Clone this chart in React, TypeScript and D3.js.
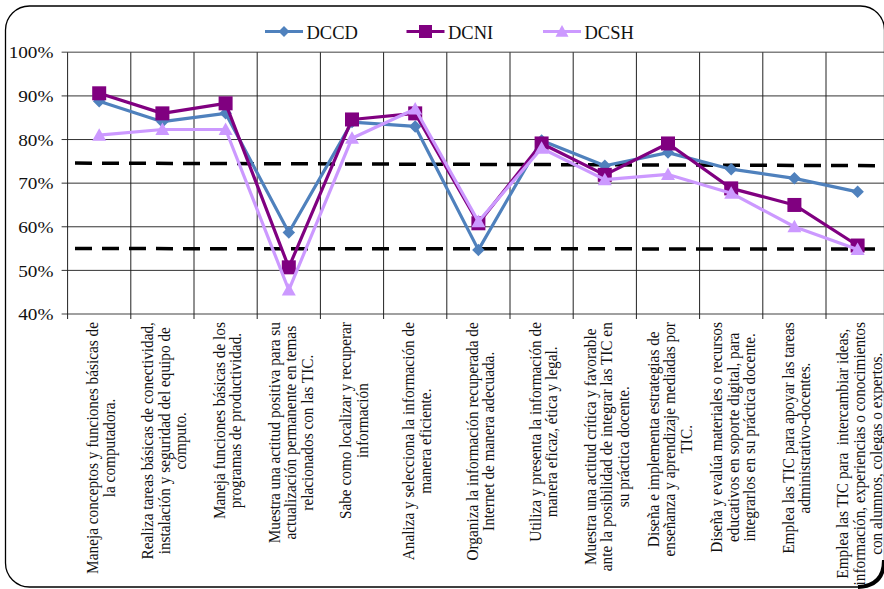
import React from "react";
import * as d3 from "d3";

const categories: string[][] = [
  ["Maneja conceptos y funciones básicas de", "la computadora."],
  ["Realiza tareas básicas de conectividad,", "instalación y seguridad del equipo de", "cómputo."],
  ["Maneja funciones básicas de los", "programas de productividad."],
  ["Muestra una actitud positiva para su", "actualización permanente en temas", "relacionados con las TIC."],
  ["Sabe como localizar y recuperar", "información"],
  ["Analiza y selecciona la información de", "manera eficiente."],
  ["Organiza la información recuperada de", "Internet de manera adecuada."],
  ["Utiliza y presenta la información de", "manera eficaz, ética y legal."],
  ["Muestra una actitud crítica y favorable", "ante la posibilidad de integrar las TIC en", "su práctica docente."],
  ["Diseña e implementa estrategias de", "enseñanza y aprendizaje mediadas por", "TIC."],
  ["Diseña y evalúa materiales o recursos", "educativos en soporte digital, para", "integrarlos en su práctica docente."],
  ["Emplea las TIC para apoyar las tareas", "administrativo-docentes."],
  ["Emplea las TIC para  intercambiar ideas,", "información, experiencias o conocimientos", "con alumnos, colegas o expertos."],
];

const DCCD = [88.8, 84.1, 86.0, 58.7, 84.0, 83.0, 54.7, 79.8, 74.0, 77.0, 73.2, 71.1, 68.0];
const DCNI = [90.6, 86.0, 88.3, 50.7, 84.6, 86.0, 60.8, 79.1, 71.9, 79.1, 68.8, 65.0, 55.7];
const DCSH = [81.0, 82.3, 82.3, 45.5, 80.3, 87.0, 61.2, 78.0, 70.8, 72.0, 67.7, 60.0, 54.8];

const upperBand = [74.6, 74.0];
const lowerBand = [55.0, 54.9];

const yTicks = [40, 50, 60, 70, 80, 90, 100];

const seriesNames = ["DCCD", "DCNI", "DCSH"];
const seriesColors = ["#4F81BD", "#800080", "#CC99FF"];
const seriesShapes = ["diamond", "square", "triangle"];

const W = 884;
const H = 589;
const plotLeft = 67.6;
const step = 63.2;
const plotRight = plotLeft + step * categories.length;
const plotTop = 52.3;
const plotBottom = 314;

const FONT = '"Liberation Serif"';
const labelSize = 15.3;
const labelLineH = 16.6;

// approximate Times-metric advance widths (per 1000 em)
const widths: Record<string, number> = {
  " ": 250, a: 444, b: 500, c: 444, d: 500, e: 444, f: 333, g: 500, h: 500, i: 278, j: 278, k: 500,
  l: 278, m: 778, n: 500, o: 500, p: 500, q: 500, r: 333, s: 389, t: 278, u: 500, v: 500, w: 722,
  x: 500, y: 500, z: 444, "á": 444, "é": 444, "í": 278, "ó": 500, "ú": 500, "ñ": 500,
  M: 889, R: 667, S: 556, A: 722, O: 722, U: 722, I: 333, T: 611, C: 667, D: 722, E: 611,
  ",": 250, ".": 250, "-": 333,
};
function measure(text: string): number {
  let w = 0;
  for (const ch of text) w += widths[ch] ?? 500;
  return (w / 1000) * labelSize;
}

function Marker({ shape, x, y, color, s }: { shape: string; x: number; y: number; color: string; s: number }) {
  const r = s * 0.5;
  if (shape === "diamond") {
    return <path d={`M${x},${y - r}L${x + r},${y}L${x},${y + r}L${x - r},${y}Z`} fill={color} />;
  }
  if (shape === "square") {
    return <rect x={x - r} y={y - r} width={2 * r} height={2 * r} fill={color} />;
  }
  return <path d={`M${x},${y - r}L${x + r},${y + r * 0.8}L${x - r},${y + r * 0.8}Z`} fill={color} />;
}

export default function App() {
  const x = d3
    .scaleBand<number>()
    .domain(d3.range(categories.length))
    .range([plotLeft, plotRight]);
  const y = d3.scaleLinear().domain([40, 100]).range([plotBottom, plotTop]);
  const cx = (i: number) => (x(i) as number) + x.bandwidth() / 2;

  const allSeries = [DCCD, DCNI, DCSH];
  const line = d3
    .line<number>()
    .x((_, i) => cx(i))
    .y((d) => y(d));

  const bandX = d3.scaleLinear().domain([0, 1]).range([75, plotRight]);
  const bandLine = d3
    .line<number>()
    .x((_, i) => bandX(i))
    .y((d) => y(d));

  const legendX = [265, 406.5, 543];
  const legendMarkerSize = [11, 13, 13];
  const markerSize = [12.5, 14, 14];

  const labelTop = 322;
  const textStyle = { fontFamily: FONT, whiteSpace: "pre" as const };

  return (
    <svg width={W} height={H} style={{ position: "absolute", left: 0, top: 0, background: "#fff" }}>
      <rect x={0} y={0} width={W} height={H} fill="#fff" />
      {yTicks.map((t) => (
        <g key={t}>
          <line
            x1={plotLeft - 6}
            x2={plotRight}
            y1={y(t)}
            y2={y(t)}
            stroke={t === 100 || t === 40 ? "#808080" : "#333"}
            strokeWidth={t === 100 || t === 40 ? 1.6 : 1}
          />
          <text
            transform={`translate(53.5,${y(t)}) scale(1.1,1)`}
            dy="0.35em"
            textAnchor="end"
            fontSize={17.5}
            fill="#111"
            style={textStyle}
          >
            {t}%
          </text>
        </g>
      ))}
      {d3.range(categories.length + 1).map((i) => (
        <line
          key={i}
          x1={plotLeft + i * step}
          x2={plotLeft + i * step}
          y1={plotTop}
          y2={plotBottom + 5}
          stroke="#222"
          strokeWidth={1}
        />
      ))}
      <path d={bandLine(upperBand) || ""} fill="none" stroke="#000" strokeWidth={3.5} strokeDasharray="17 10" />
      <path d={bandLine(lowerBand) || ""} fill="none" stroke="#000" strokeWidth={3.5} strokeDasharray="17 10" />
      {allSeries.map((s, si) => (
        <g key={si}>
          <path d={line(s) || ""} fill="none" stroke={seriesColors[si]} strokeWidth={3.2} strokeLinejoin="round" />
          {s.map((v, i) => (
            <Marker key={i} shape={seriesShapes[si]} x={cx(i)} y={y(v)} color={seriesColors[si]} s={markerSize[si]} />
          ))}
        </g>
      ))}
      {categories.map((lines, i) => {
        const maxLen = Math.max(...lines.map(measure));
        const yc = labelTop + maxLen / 2;
        const n = lines.length;
        return (
          <g key={i}>
            {lines.map((ln, j) => {
              const lx = cx(i) + 1.5 + (j - (n - 1) / 2) * labelLineH;
              return (
                <text
                  key={j}
                  transform={`translate(${lx},${yc}) rotate(-90) scale(1,1.1)`}
                  textAnchor="middle"
                  dy="0.35em"
                  fontSize={labelSize}
                  fill="#111"
                  style={textStyle}
                >
                  {ln}
                </text>
              );
            })}
          </g>
        );
      })}
      {seriesNames.map((nm, si) => (
        <g key={nm}>
          <line x1={legendX[si]} x2={legendX[si] + 38} y1={31.5} y2={31.5} stroke={seriesColors[si]} strokeWidth={3.2} />
          <Marker shape={seriesShapes[si]} x={legendX[si] + 19} y={31.5} color={seriesColors[si]} s={legendMarkerSize[si]} />
          <text x={legendX[si] + 41.5} y={38.5} fontSize={18.5} fill="#111" style={textStyle}>
            {nm}
          </text>
        </g>
      ))}
      <rect x={5.5} y={6} width={879} height={581} rx={24} ry={24} fill="none" stroke="#000" strokeWidth={1.3} />
      <path d="M884,560 Q884,586 858,587" fill="none" stroke="#000" strokeWidth={4} />
    </svg>
  );
}
